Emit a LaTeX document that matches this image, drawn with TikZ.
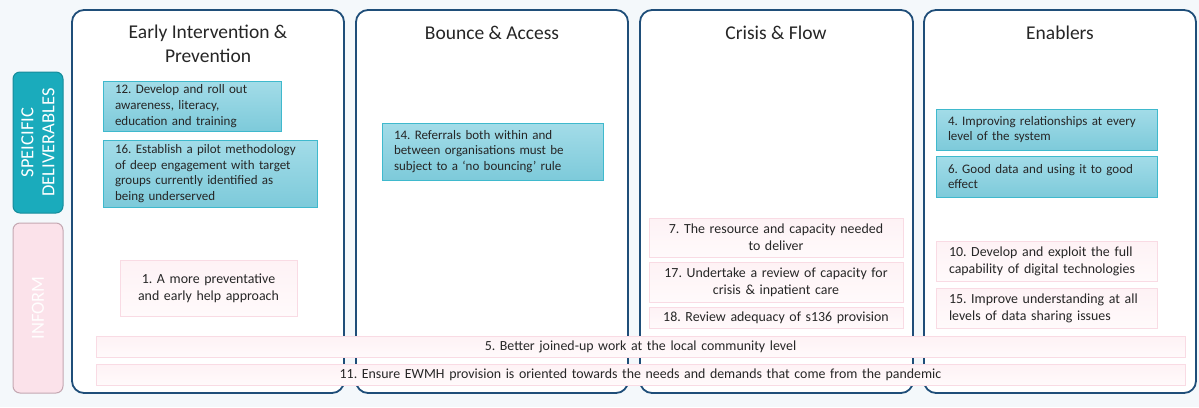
\documentclass[tikz,border=0pt]{standalone}
\usepackage{fontspec}
\setmainfont{Carlito}
\frenchspacing
\definecolor{pagebg}{HTML}{F4F8FB}
\definecolor{panelline}{HTML}{1F4E79}
\definecolor{tealtop}{HTML}{A3DCE8}
\definecolor{tealbot}{HTML}{7DCADA}
\definecolor{tealline}{HTML}{3FB9CD}
\definecolor{tabteal}{HTML}{1AABBC}
\definecolor{tabtealline}{HTML}{168C9B}
\definecolor{pinktop}{HTML}{FEF2F5}
\definecolor{pinkbot}{HTML}{FFFAFB}
\definecolor{pinkline}{HTML}{F9DBE4}
\definecolor{tabpink}{HTML}{FBE2EA}
\definecolor{tabpinkline}{HTML}{C4A8B2}
\definecolor{inktext}{HTML}{262626}
\tikzset{
  panel/.style={draw=panelline, line width=1.8pt, fill=white, rounded corners=12pt},
  heading/.style={font=\fontsize{19.5}{24}\selectfont, text=inktext, align=center, inner sep=0pt},
  tealbox/.style={draw=tealline, line width=0.9pt, top color=tealtop, bottom color=tealbot,
    inner xsep=12pt, inner ysep=0pt, align=left, text=inktext,
    font=\fontsize{13}{15.7}\selectfont},
  pinkbox/.style={draw=pinkline, line width=0.8pt, top color=pinktop, bottom color=pinkbot,
    inner xsep=10pt, inner ysep=0pt, text=inktext,
    font=\fontsize{13.9}{17}\selectfont},
  tabbox/.style={rounded corners=7pt, line width=1pt, inner sep=0pt, rotate=90,
    font=\fontsize{18.5}{21}\selectfont, align=center}
}
\begin{document}
\begin{tikzpicture}[x=1pt,y=-1pt]
% page background
\fill[pagebg] (0,0) rectangle (1199,407);
\useasboundingbox (0,0) rectangle (1199,407);

% side tabs
\node[tabbox, draw=tabtealline, fill=tabteal, text=white,
  minimum width=141pt, minimum height=50pt] (tabspec) at (38,142.5) {SPEICIFIC\\DELIVERABLES};
\node[tabbox, draw=tabpinkline, fill=tabpink, text=white!96!tabpink,
  minimum width=170pt, minimum height=50pt] (tabinform) at (38,308) {INFORM};

% column panels
\draw[panel] (72,10) rectangle (344,393);
\draw[panel] (356,10) rectangle (628,393);
\draw[panel] (640,10) rectangle (913,393);
\draw[panel] (924,10) rectangle (1196,393);

% column headings
\node[heading] (h1) at (208,44) {Early Intervention \&\\Prevention};
\node[heading] (h2) at (492,33) {Bounce \& Access};
\node[heading] (h3) at (776,33) {Crisis \& Flow};
\node[heading] (h4) at (1060,33) {Enablers};

% specific deliverables
\node[tealbox, text width=154pt, minimum height=50pt] (d12) at (192,106)
  {12. Develop and roll out\\awareness, literacy,\\education and training};
\node[tealbox, text width=190pt, minimum height=67pt] (d16) at (210,173.5)
  {16. Establish a pilot methodology\\of deep engagement with target\\groups currently identified as\\being underserved};
\node[tealbox, text width=197pt, minimum height=57pt] (d14) at (492.5,151.5)
  {14. Referrals both within and\\between organisations must be\\subject to a ‘no bouncing’ rule};
\node[tealbox, text width=197pt, minimum height=41pt] (d4) at (1046.5,129.5)
  {4. Improving relationships at every\\level of the system};
\node[tealbox, text width=197pt, minimum height=41pt] (d6) at (1046.5,176.5)
  {6. Good data and using it to good\\effect};

% inform items
\node[pinkbox, align=center, text width=157pt, minimum height=56pt] (i1) at (208.5,288)
  {1. A more preventative\\and early help approach};
\node[pinkbox, align=center, text width=234pt, minimum height=39pt] (i7) at (776,237.5)
  {7. The resource and capacity needed\\to deliver};
\node[pinkbox, align=center, text width=234pt, minimum height=40pt] (i17) at (776,282)
  {17. Undertake a review of capacity for\\crisis \& inpatient care};
\node[pinkbox, align=center, text width=234pt, minimum height=21pt] (i18) at (776,317.5)
  {18. Review adequacy of s136 provision};
\node[pinkbox, align=left, inner xsep=13pt, text width=195pt, minimum height=40pt] (i10) at (1046.5,261)
  {10. Develop and exploit the full\\capability of digital technologies};
\node[pinkbox, align=left, inner xsep=13pt, text width=195pt, minimum height=40pt] (i15) at (1046.5,308)
  {15. Improve understanding at all\\levels of data sharing issues};

% cross-cutting items
\node[pinkbox, align=center, text width=1069pt, minimum height=21pt] (i5) at (640.5,346.5)
  {5. Better joined-up work at the local community level};
\node[pinkbox, align=center, text width=1069pt, minimum height=21pt] (i11) at (640.5,374.5)
  {11. Ensure EWMH provision is oriented towards the needs and demands that come from the pandemic};
\end{tikzpicture}
\end{document}
